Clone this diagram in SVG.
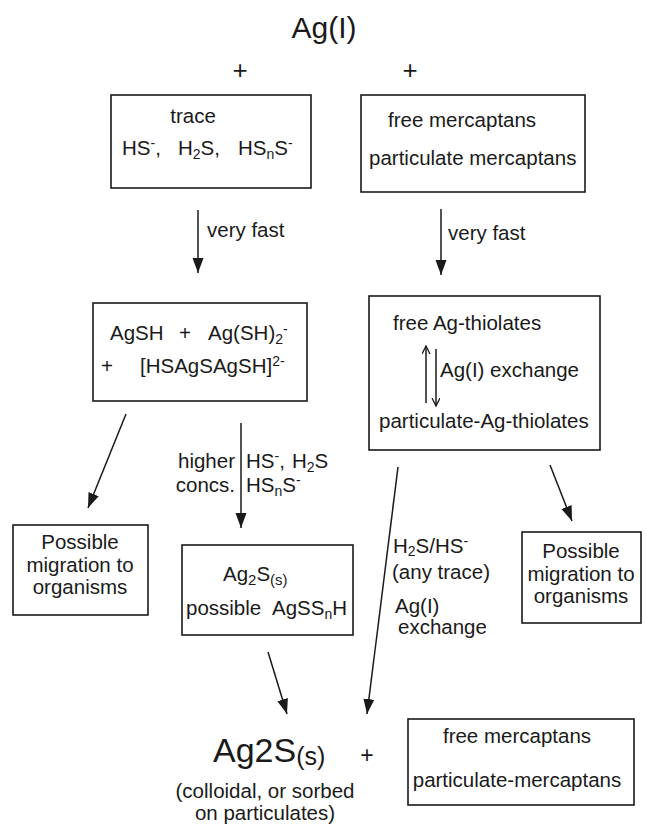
<svg xmlns="http://www.w3.org/2000/svg" width="647" height="827" viewBox="0 0 647 827">
<style>
text{font-family:"Liberation Sans",Arial,sans-serif;font-size:20.5px;fill:#1a1a1a}
.box{fill:none;stroke:#1a1a1a;stroke-width:1.6}
.ln{fill:none;stroke:#1a1a1a;stroke-width:1.5}
.s{font-size:14px}
.m{text-anchor:middle}
</style>
<defs>
<marker id="ah" markerUnits="userSpaceOnUse" markerWidth="16" markerHeight="12" refX="15" refY="6" orient="auto">
<path d="M0,0.5 L15,6 L0,11.5 z" fill="#1a1a1a"/>
</marker>
<marker id="oh" markerUnits="userSpaceOnUse" markerWidth="10" markerHeight="10" refX="8" refY="4" orient="auto">
<path d="M0,0 L8,4 L0,8" fill="none" stroke="#1a1a1a" stroke-width="1.3"/>
</marker>
</defs>
<rect width="647" height="827" fill="#fff"/>

<g id="ag-title">
<text x="324" y="38" class="m" style="font-size:30px">Ag(I)</text>
<text x="240" y="79" class="m" style="font-size:26px">+</text>
<text x="410" y="79" class="m" style="font-size:26px">+</text>
</g>

<g id="trace-box">
<rect class="box" x="111" y="95" width="200" height="93"/>
<text x="193" y="123" class="m">trace</text>
<text x="122" y="155">HS<tspan class="s" dy="-7">-</tspan><tspan dy="7">,</tspan></text>
<text x="178" y="155">H<tspan class="s" dy="4">2</tspan><tspan dy="-4">S,</tspan></text>
<text x="238" y="155">HS<tspan class="s" dy="4">n</tspan><tspan dy="-4">S</tspan><tspan class="s" dy="-7">-</tspan></text>
</g>

<g id="mercaptans-box">
<rect class="box" x="361" y="95" width="224" height="97"/>
<text x="388" y="127">free mercaptans</text>
<text x="369" y="165">particulate mercaptans</text>
</g>

<g id="agsh-box">
<rect class="box" x="93" y="303" width="214" height="98"/>
<text x="110" y="340">AgSH</text>
<text x="185" y="340" class="m">+</text>
<text x="208" y="340">Ag(SH)<tspan class="s" dy="4">2</tspan><tspan class="s" dy="-10">-</tspan></text>
<text x="107" y="373" class="m">+</text>
<text x="140" y="373">[HSAgSAgSH]<tspan class="s" dy="-7">2-</tspan></text>
</g>

<g id="thiolates-box">
<rect class="box" x="369" y="296" width="231" height="154"/>
<text x="393" y="330">free Ag-thiolates</text>
<line class="ln" x1="426" y1="403" x2="426" y2="346" marker-end="url(#oh)"/>
<line class="ln" x1="436" y1="349" x2="436" y2="406" marker-end="url(#oh)"/>
<text x="440" y="377">Ag(I) exchange</text>
<text x="379" y="428">particulate-Ag-thiolates</text>
</g>

<g id="possible-left">
<rect class="box" x="13" y="525" width="135" height="90"/>
<text x="80" y="549" class="m">Possible</text>
<text x="80" y="572" class="m">migration to</text>
<text x="80" y="594" class="m">organisms</text>
</g>

<g id="ag2s-box">
<rect class="box" x="182" y="545" width="171" height="90"/>
<text x="223" y="581">Ag<tspan dy="4" style="font-size:15px">2</tspan><tspan dy="-4">S</tspan><tspan dy="4" style="font-size:15px">(s)</tspan></text>
<text x="186" y="615">possible</text>
<text x="272" y="615">AgSS<tspan class="s" dy="4">n</tspan><tspan dy="-4">H</tspan></text>
</g>

<g id="possible-right">
<rect class="box" x="522" y="532" width="119" height="91"/>
<text x="581" y="558" class="m">Possible</text>
<text x="581" y="581" class="m">migration to</text>
<text x="581" y="603" class="m">organisms</text>
</g>

<g id="ag2s-product">
<text x="213" y="762" style="font-size:34px">Ag2S<tspan dy="3" style="font-size:25px">(s)</tspan></text>
<text x="367" y="763" class="m" style="font-size:23px">+</text>
<text x="265" y="798" class="m">(colloidal, or sorbed</text>
<text x="265" y="820" class="m">on particulates)</text>
</g>

<g id="mercaptans-bottom">
<rect class="box" x="408" y="719" width="226" height="86"/>
<text x="517" y="743" class="m">free mercaptans</text>
<text x="517" y="787" class="m">particulate-mercaptans</text>
</g>

<g id="connectors">
<line class="ln" x1="198" y1="210" x2="198" y2="273" marker-end="url(#ah)"/>
<text x="207" y="237">very fast</text>
<line class="ln" x1="441" y1="209" x2="441" y2="275" marker-end="url(#ah)"/>
<text x="448" y="240">very fast</text>
<line class="ln" x1="126" y1="414" x2="88" y2="508" marker-end="url(#ah)"/>
<line class="ln" x1="241" y1="423" x2="241" y2="528" marker-end="url(#ah)"/>
<text x="235" y="468" text-anchor="end">higher</text>
<text x="235" y="492" text-anchor="end">concs.</text>
<text x="246" y="468">HS<tspan class="s" dy="-7">-</tspan><tspan dy="7">,</tspan></text>
<text x="292" y="468">H<tspan class="s" dy="4">2</tspan><tspan dy="-4">S</tspan></text>
<text x="246" y="492">HS<tspan class="s" dy="4">n</tspan><tspan dy="-4">S</tspan><tspan class="s" dy="-7">-</tspan></text>
<line class="ln" x1="550" y1="465" x2="572" y2="521" marker-end="url(#ah)"/>
<line class="ln" x1="398" y1="467" x2="367" y2="714" marker-end="url(#ah)"/>
<text x="393" y="553">H<tspan class="s" dy="3">2</tspan><tspan dy="-3">S/HS</tspan><tspan class="s" dy="-7">-</tspan></text>
<text x="392" y="579">(any trace)</text>
<text x="395" y="613">Ag(I)</text>
<text x="398" y="634">exchange</text>
<line class="ln" x1="268" y1="652" x2="287" y2="714" marker-end="url(#ah)"/>
</g>
</svg>
